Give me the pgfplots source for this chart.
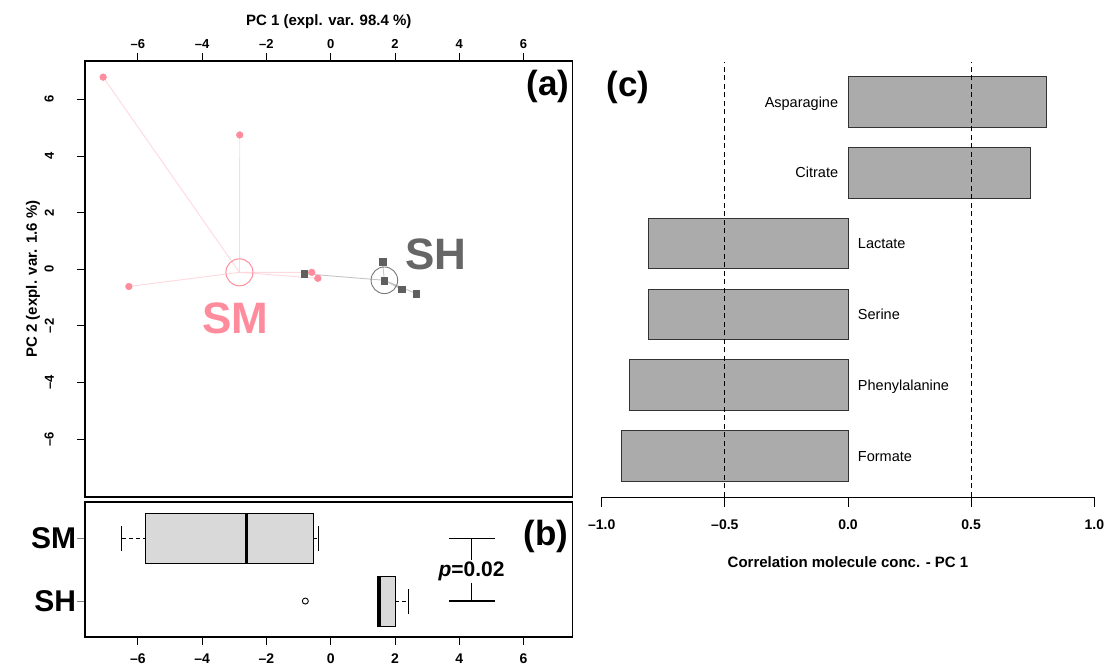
\documentclass[border=0pt]{standalone}
\usepackage{fontspec}
\setmainfont{Liberation Sans}
\usepackage{pgfplots}
\pgfplotsset{compat=1.18}
\definecolor{smpink}{HTML}{FF8C9D}
\definecolor{smline}{HTML}{FFD8DE}
\definecolor{shgray}{HTML}{5F5F5F}
\definecolor{shtext}{HTML}{666666}
\definecolor{shline}{HTML}{C4C4C4}
\definecolor{boxfill}{HTML}{D9D9D9}
\definecolor{barfill}{HTML}{ABABAB}
\newcommand{\fs}[1]{\fontsize{#1}{#1}\selectfont}
\begin{document}
\begin{tikzpicture}[x=1pt,y=1pt]
\path[use as bounding box] (0,0) rectangle (1107,666);
% ---------------- (a) PCA scores
\begin{axis}[
  at={(85pt,169pt)}, anchor=south west, scale only axis,
  width=487.5pt, height=436pt,
  xmin=-7.645, xmax=7.523, ymin=-8.04, ymax=7.35,
  axis line style={line width=1.2pt},
  xtick={-6,-4,...,6}, xticklabels={–6,–4,–2,0,2,4,6},
  ytick={-6,-4,...,6}, yticklabels={–6,–4,–2,0,2,4,6},
  xtick pos=right, xticklabel pos=right, ytick pos=left,
  tick align=outside, major tick length=7.7pt,
  tick style={line width=0.8pt, black},
  ticklabel style={font=\bfseries\fs{13}},
  xticklabel style={yshift=1pt},
  yticklabel style={xshift=-20pt, rotate=90, anchor=south},
  xlabel={PC 1 (expl. var. 98.4 \%)},
  xlabel style={font=\bfseries\fs{15}, at={(axis description cs:0.5,1.0901)}, anchor=center},
  ylabel={PC 2 (expl. var. 1.6 \%)},
  ylabel style={font=\bfseries\fs{15}, at={(axis description cs:-0.1067,0.5)}, anchor=center},
]
% SM star lines
\addplot[smline, line width=0.9pt, mark=none] coordinates {
  (-2.84,-0.11) (-7.08,6.78) (-2.84,-0.11) (-2.83,4.74) (-2.84,-0.11) (-6.28,-0.61)
  (-2.84,-0.11) (-0.59,-0.11) (-2.84,-0.11) (-0.40,-0.32) (-2.84,-0.11)};
% SH star lines
\addplot[shline, line width=0.9pt, mark=none] coordinates {
  (1.67,-0.39) (-0.82,-0.16) (1.67,-0.39) (1.61,0.26) (1.67,-0.39) (2.20,-0.71)
  (1.67,-0.39) (2.66,-0.86) (1.67,-0.39)};
% SM points
\addplot[only marks, mark=*, mark size=3.4pt, smpink, mark options={draw=smpink, fill=smpink}] coordinates {
  (-7.08,6.78) (-2.83,4.74) (-6.28,-0.61) (-0.59,-0.11) (-0.40,-0.32)};
% SH points
\addplot[only marks, mark=square*, mark size=3.3pt, shgray, mark options={draw=shgray, fill=shgray}] coordinates {
  (-0.82,-0.16) (1.61,0.26) (1.67,-0.40) (2.20,-0.71) (2.66,-0.86)};
% centroids
\addplot[only marks, mark=o, mark size=13.5pt, smpink, mark options={line width=1pt}] coordinates {(-2.84,-0.11)};
\addplot[only marks, mark=o, mark size=13.3pt, shgray!85, mark options={line width=0.9pt}] coordinates {(1.67,-0.39)};
\node[font=\bfseries\fs{44}, text=smpink, anchor=center, inner sep=0pt] at (axis cs:-2.96,-1.72) {SM};
\node[font=\bfseries\fs{44}, text=shtext, anchor=center, inner sep=0pt] at (axis cs:3.28,0.54) {SH};
\end{axis}
% ---------------- (b) boxplot
\begin{axis}[
  at={(85pt,28.7pt)}, anchor=south west, scale only axis,
  width=487.5pt, height=135pt,
  xmin=-7.645, xmax=7.523, ymin=0.42, ymax=2.58,
  axis line style={line width=1.8pt},
  xtick={-6,-4,...,6}, xticklabels={–6,–4,–2,0,2,4,6},
  ytick={1,2}, yticklabels={SH,SM},
  xtick pos=left, ytick pos=left, tick align=outside,
  major tick length=7.7pt,
  tick style={line width=0.8pt, black},
  ytick style={gray},
  xticklabel style={font=\bfseries\fs{14}, yshift=-5pt},
  yticklabel style={font=\bfseries\fs{30}, inner sep=1pt},
]
% SM box
\addplot[fill=boxfill, draw=black, line width=1pt] coordinates {(-5.77,1.6) (-0.54,1.6) (-0.54,2.4) (-5.77,2.4)} -- cycle;
\addplot[black, line width=3.2pt] coordinates {(-2.62,1.6) (-2.62,2.4)};
\addplot[black, line width=1pt, dash pattern=on 4pt off 3pt] coordinates {(-6.50,2) (-5.77,2)};
\addplot[black, line width=1pt, dash pattern=on 4pt off 3pt] coordinates {(-0.54,2) (-0.38,2)};
\addplot[black, line width=1pt] coordinates {(-6.50,1.8) (-6.50,2.2)};
\addplot[black, line width=1pt] coordinates {(-0.38,1.8) (-0.38,2.2)};
% SH box
\addplot[fill=boxfill, draw=black, line width=1pt] coordinates {(1.47,0.6) (2.01,0.6) (2.01,1.4) (1.47,1.4)} -- cycle;
\addplot[black, line width=3.2pt] coordinates {(1.52,0.6) (1.52,1.4)};
\addplot[black, line width=1pt, dash pattern=on 4pt off 3pt] coordinates {(2.01,1) (2.43,1)};
\addplot[black, line width=1pt] coordinates {(2.43,0.8) (2.43,1.2)};
\addplot[only marks, mark=o, mark size=3pt, black, mark options={line width=0.9pt}] coordinates {(-0.79,1)};
% p-value bracket
\addplot[black, line width=1.2pt] coordinates {(3.68,2) (5.12,2)};
\addplot[black, line width=1.2pt] coordinates {(3.68,1) (5.12,1)};
\addplot[black, line width=1.2pt] coordinates {(4.38,2) (4.38,1)};
\node[fill=white, inner sep=2pt, font=\bfseries\fs{21}] at (axis cs:4.38,1.47) {\textit{p}=0.02};
\end{axis}
% ---------------- (c) correlation bars
\begin{axis}[
  at={(601.7pt,169pt)}, anchor=south west, scale only axis,
  width=492.6pt, height=435.3pt,
  xmin=-1, xmax=1, ymin=0.421, ymax=6.569,
  axis x line*=bottom, axis y line=none, ytick=\empty,
  axis line style={-, line width=0.9pt},
  xtick={-1,-0.5,0,0.5,1}, xticklabels={–1.0,–0.5,0.0,0.5,1.0},
  tick align=outside, major tick length=9.7pt,
  tick style={line width=0.9pt, black},
  xticklabel style={font=\bfseries\fs{14}, yshift=-9pt},
  xlabel={Correlation molecule conc. - PC 1},
  xlabel style={font=\bfseries\fs{15}, at={(axis description cs:0.5,-0.1486)}, anchor=center},
  clip=false,
]
\addplot[xbar, bar width=0.714, bar shift=0pt, fill=barfill, draw=black!80, line width=0.9pt]
  coordinates {(0.805,6) (0.74,5) (-0.812,4) (-0.812,3) (-0.888,2) (-0.920,1)};
\addplot[black, line width=0.8pt, dash pattern=on 5pt off 3.5pt] coordinates {(-0.5,0.421) (-0.5,6.569)};
\addplot[black, line width=0.8pt, dash pattern=on 5pt off 3.5pt] coordinates {(0.5,0.421) (0.5,6.569)};
\node[anchor=base east, inner sep=0pt, yshift=-5.2pt, font=\fs{14.5}] at (axis cs:-0.0394,6) {Asparagine};
\node[anchor=base east, inner sep=0pt, yshift=-5.2pt, font=\fs{14.5}] at (axis cs:-0.0394,5) {Citrate};
\node[anchor=base west, inner sep=0pt, yshift=-5.2pt, font=\fs{14.5}] at (axis cs:0.0396,4) {Lactate};
\node[anchor=base west, inner sep=0pt, yshift=-5.2pt, font=\fs{14.5}] at (axis cs:0.0396,3) {Serine};
\node[anchor=base west, inner sep=0pt, yshift=-5.2pt, font=\fs{14.5}] at (axis cs:0.0396,2) {Phenylalanine};
\node[anchor=base west, inner sep=0pt, yshift=-5.2pt, font=\fs{14.5}] at (axis cs:0.0396,1) {Formate};
\end{axis}
% panel letters
\node[font=\bfseries\fs{35}, anchor=center] at (548,580) {(a)};
\node[font=\bfseries\fs{35}, anchor=center] at (546,130) {(b)};
\node[font=\bfseries\fs{35}, anchor=center] at (628,579) {(c)};
\end{tikzpicture}
\end{document}
